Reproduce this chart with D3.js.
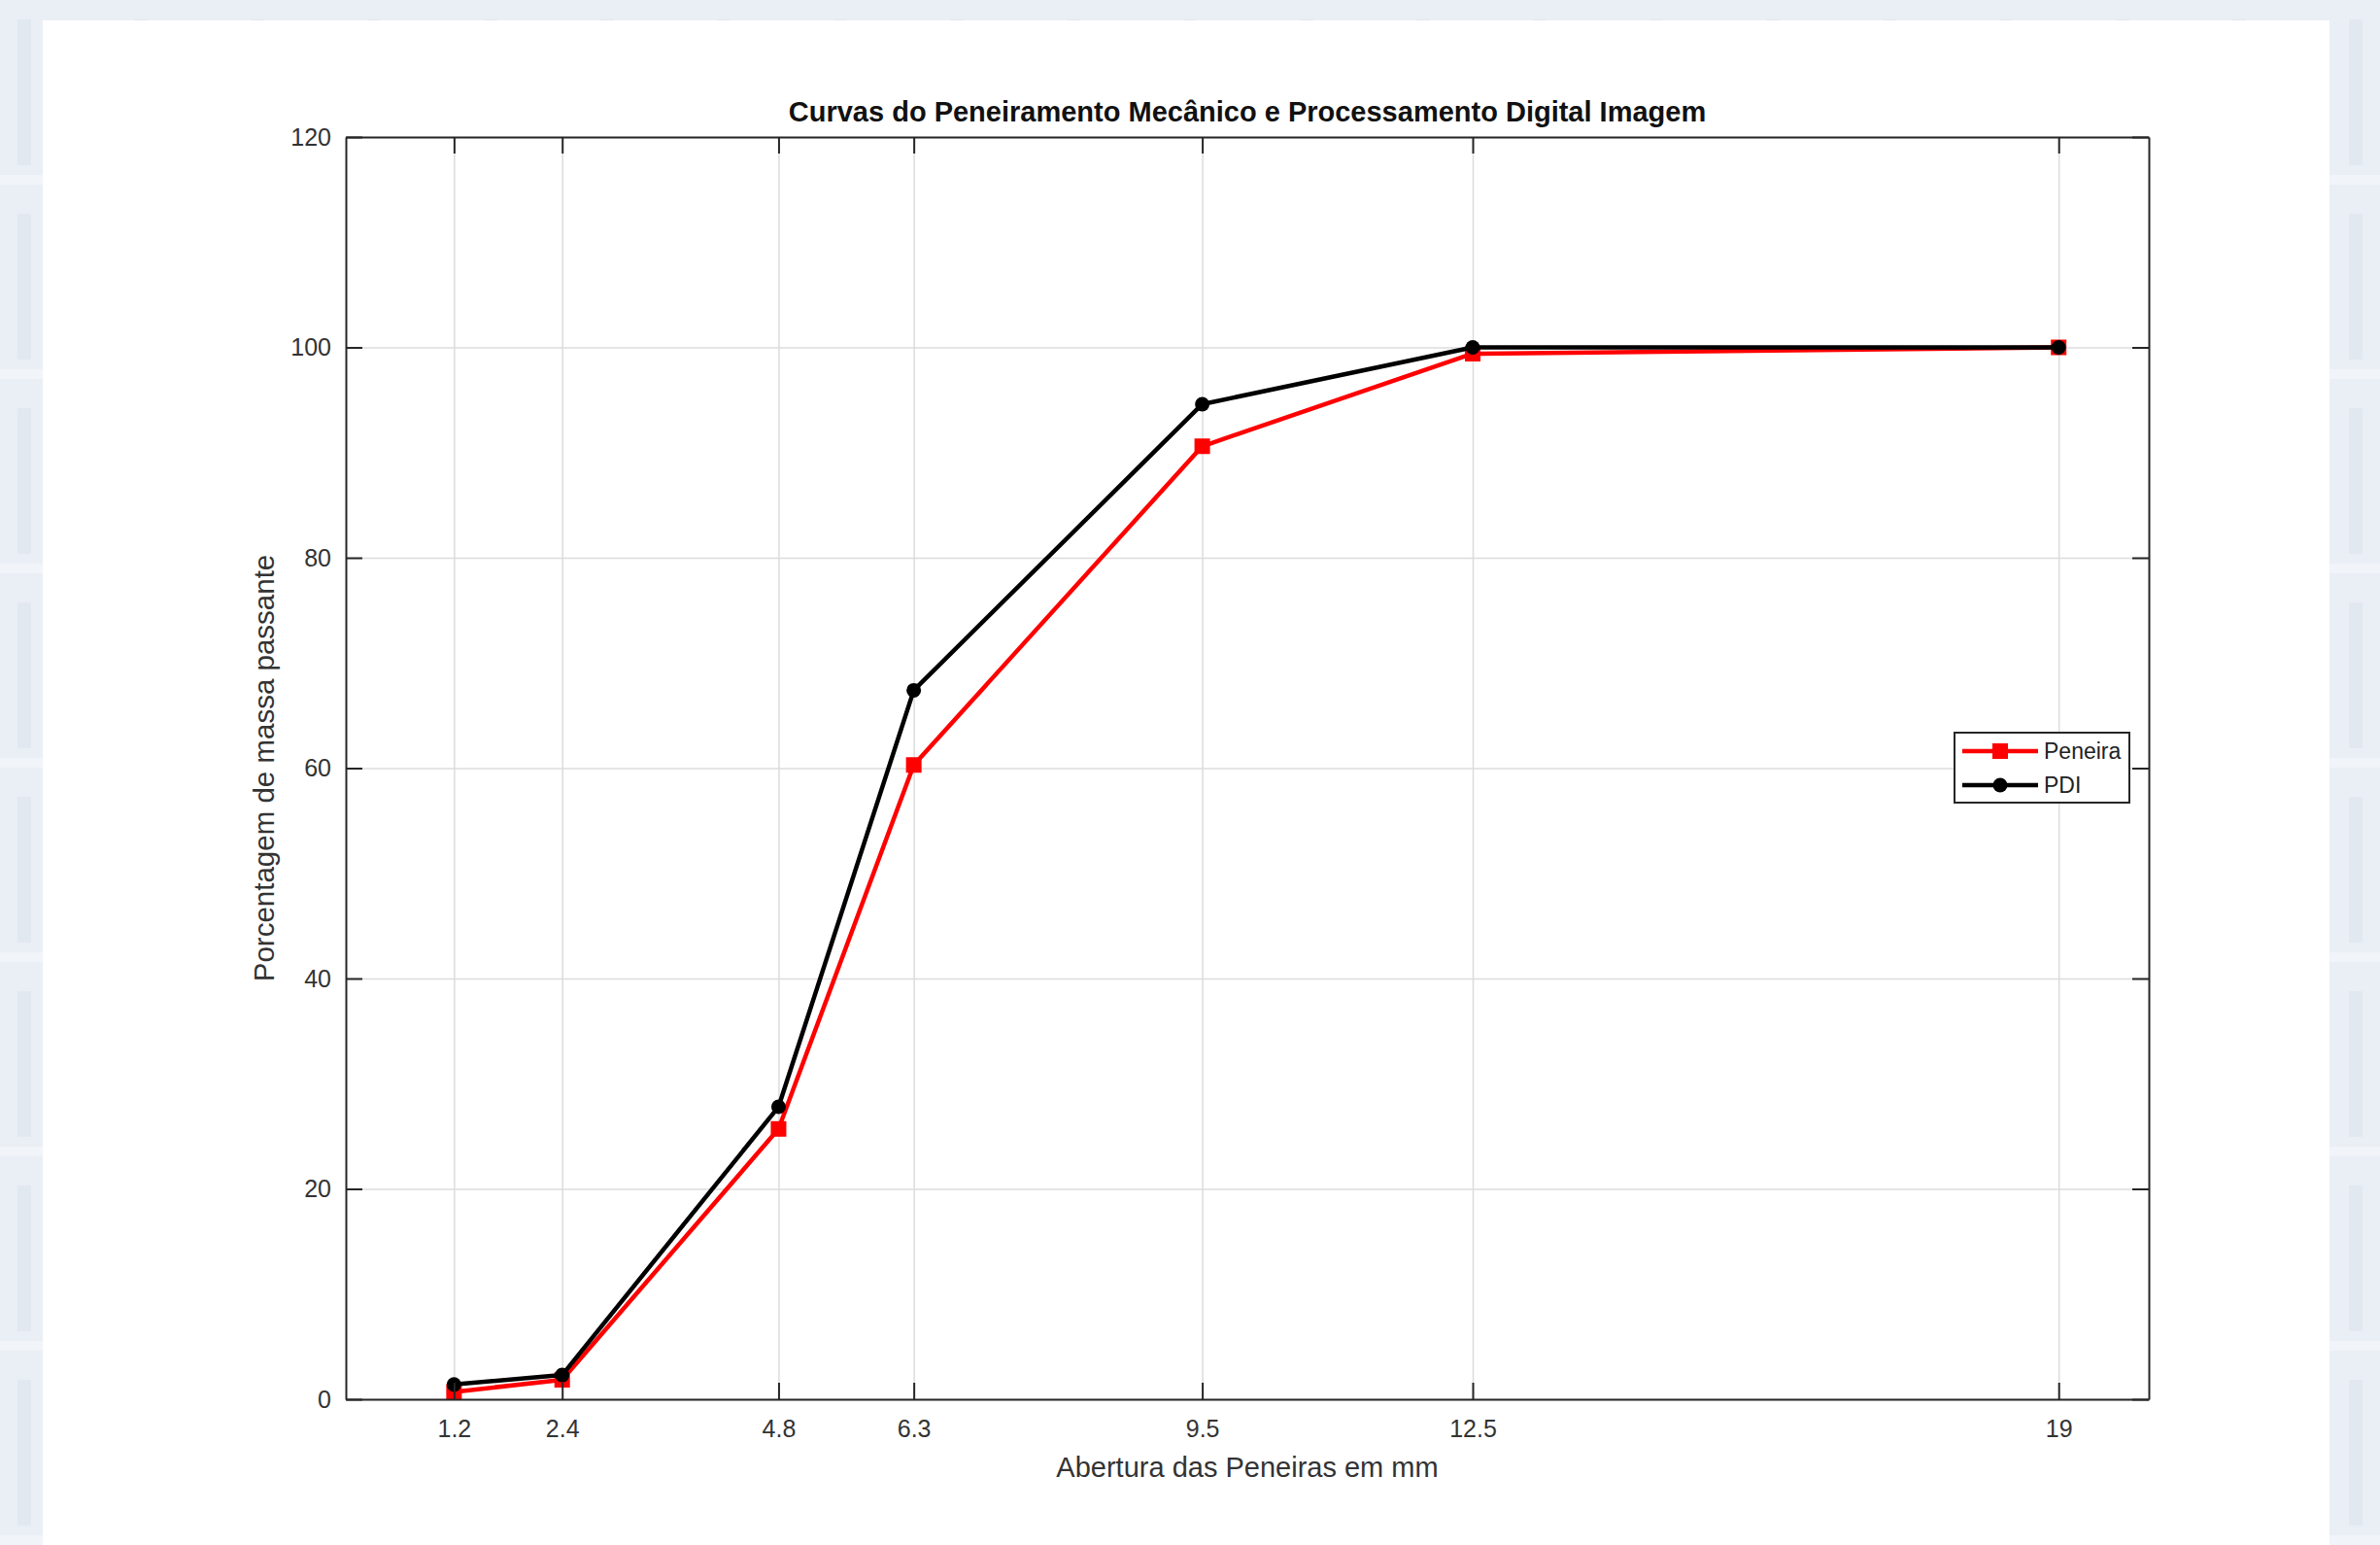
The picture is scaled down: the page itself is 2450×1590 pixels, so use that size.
<!DOCTYPE html>
<html>
<head>
<meta charset="utf-8">
<script src="https://cdn.jsdelivr.net/npm/d3@7"></script>
<style>
  html, body { margin: 0; padding: 0; background: #e7edf3; }
  svg { display: block; font-family: 'Liberation Sans', Arial, sans-serif; }
</style>
</head>
<body>
<script>
const aberturas = [1.2, 2.4, 4.8, 6.3, 9.5, 12.5, 19];
const peneira = [0.7, 1.85, 25.7, 60.3, 90.6, 99.4, 100];
const pdi = [1.4, 2.3, 27.8, 67.4, 94.6, 100, 100];
const yTicks = [0, 20, 40, 60, 80, 100, 120];
const seriesNames = ['Peneira', 'PDI'];

const w = 2450;
const h = 1590;
const plotLeft = 356, plotRight = 2212, plotTop = 141, plotBottom = 1440;

const xScale = d3.scaleLinear().domain([0, 20]).range([plotLeft, plotRight]);
const yScale = d3.scaleLinear().domain([0, 120]).range([plotBottom, plotTop]);

const svg = d3.select('body').append('svg').attr('width', w).attr('height', h);

// soft textured backdrop around the white figure
const defs = svg.append('defs');
const pat = defs.append('pattern').attr('id', 'bg').attr('width', 120).attr('height', 200).attr('patternUnits', 'userSpaceOnUse');
pat.append('rect').attr('width', 120).attr('height', 200).attr('fill', '#eaeff5');
pat.append('rect').attr('x', 18).attr('y', 20).attr('width', 14).attr('height', 150).attr('fill', '#e2e8ef');
pat.append('rect').attr('x', 0).attr('y', 180).attr('width', 120).attr('height', 10).attr('fill', '#f1f4f8');
svg.append('rect').attr('width', w).attr('height', h).attr('fill', 'url(#bg)');
svg.append('rect').attr('x', 44).attr('y', 21).attr('width', 2398 - 44).attr('height', h - 21).attr('fill', '#ffffff');

// grid
svg.append('g')
   .attr('transform', 'translate(0,' + plotBottom + ')')
   .call(d3.axisBottom(xScale).tickValues(aberturas).tickSize(-(plotBottom - plotTop)).tickFormat(''))
   .call(g => g.select('.domain').remove())
   .selectAll('line').attr('stroke', '#dcdcdc').attr('stroke-width', 1.5);
svg.append('g')
   .attr('transform', 'translate(' + plotLeft + ',0)')
   .call(d3.axisLeft(yScale).tickValues(yTicks).tickSize(-(plotRight - plotLeft)).tickFormat(''))
   .call(g => g.select('.domain').remove())
   .selectAll('line').attr('stroke', '#dcdcdc').attr('stroke-width', 1.5);

// series
const line = d3.line().x((d, i) => xScale(aberturas[i])).y((d) => yScale(d));

svg.append('path').datum(peneira).attr('d', line)
   .attr('fill', 'none').attr('stroke', '#ff0000').attr('stroke-width', 4.5).attr('stroke-linejoin', 'round');
svg.selectAll('.sq').data(peneira).enter().append('rect').attr('class', 'sq')
   .attr('x', (d, i) => xScale(aberturas[i]) - 8)
   .attr('y', (d) => yScale(d) - 8)
   .attr('width', 16).attr('height', 16).attr('fill', '#ff0000');

svg.append('path').datum(pdi).attr('d', line)
   .attr('fill', 'none').attr('stroke', '#000000').attr('stroke-width', 4.5).attr('stroke-linejoin', 'round');
svg.selectAll('.dot').data(pdi).enter().append('circle').attr('class', 'dot')
   .attr('cx', (d, i) => xScale(aberturas[i]))
   .attr('cy', (d) => yScale(d))
   .attr('r', 7.5).attr('fill', '#000000');

// axes with inward ticks on all four sides
const axisColor = '#262626';
const styleAxis = (g) => {
  g.select('.domain').attr('stroke', axisColor).attr('stroke-width', 2);
  g.selectAll('.tick line').attr('stroke', axisColor).attr('stroke-width', 2);
  g.selectAll('.tick text').attr('fill', '#333').style('font-size', '25px');
};
svg.append('g').attr('transform', 'translate(0,' + plotBottom + ')')
   .call(d3.axisBottom(xScale).tickValues(aberturas).tickSizeInner(-17).tickSizeOuter(0).tickPadding(21).tickFormat(d3.format('')))
   .call(styleAxis);
svg.append('g').attr('transform', 'translate(0,' + plotTop + ')')
   .call(d3.axisTop(xScale).tickValues(aberturas).tickSizeInner(-17).tickSizeOuter(0).tickFormat(''))
   .call(styleAxis);
svg.append('g').attr('transform', 'translate(' + plotLeft + ',0)')
   .call(d3.axisLeft(yScale).tickValues(yTicks).tickSizeInner(-17).tickSizeOuter(0).tickPadding(15))
   .call(styleAxis);
svg.append('g').attr('transform', 'translate(' + plotRight + ',0)')
   .call(d3.axisRight(yScale).tickValues(yTicks).tickSizeInner(-17).tickSizeOuter(0).tickFormat(''))
   .call(styleAxis);

// labels
svg.append('text').text('Curvas do Peneiramento Mecânico e Processamento Digital Imagem')
   .attr('x', (plotLeft + plotRight) / 2).attr('y', 125).attr('text-anchor', 'middle')
   .style('font-size', '29px').style('font-weight', 'bold').attr('fill', '#111');
svg.append('text').text('Abertura das Peneiras em mm')
   .attr('x', (plotLeft + plotRight) / 2).attr('y', 1520).attr('text-anchor', 'middle')
   .style('font-size', '29px').attr('fill', '#333');
svg.append('text').text('Porcentagem de massa passante')
   .attr('transform', 'translate(282,' + yScale(60) + ')rotate(-90)').attr('text-anchor', 'middle')
   .style('font-size', '29.5px').attr('fill', '#333');

// legend
const lg = svg.append('g');
lg.append('rect').attr('x', 2012).attr('y', 754).attr('width', 180).attr('height', 72)
  .attr('fill', '#fff').attr('stroke', axisColor).attr('stroke-width', 2);
const rows = [{ y: 773, color: '#ff0000' }, { y: 808, color: '#000000' }];
rows.forEach((r, i) => {
  lg.append('line').attr('x1', 2020).attr('x2', 2098).attr('y1', r.y).attr('y2', r.y)
    .attr('stroke', r.color).attr('stroke-width', 4.5);
  if (i === 0) {
    lg.append('rect').attr('x', 2051).attr('y', r.y - 8).attr('width', 16).attr('height', 16).attr('fill', r.color);
  } else {
    lg.append('circle').attr('cx', 2059).attr('cy', r.y).attr('r', 7.5).attr('fill', r.color);
  }
  lg.append('text').text(seriesNames[i]).attr('x', 2104).attr('y', r.y + 8)
    .style('font-size', '23px').attr('fill', '#222');
});
</script>
</body>
</html>
